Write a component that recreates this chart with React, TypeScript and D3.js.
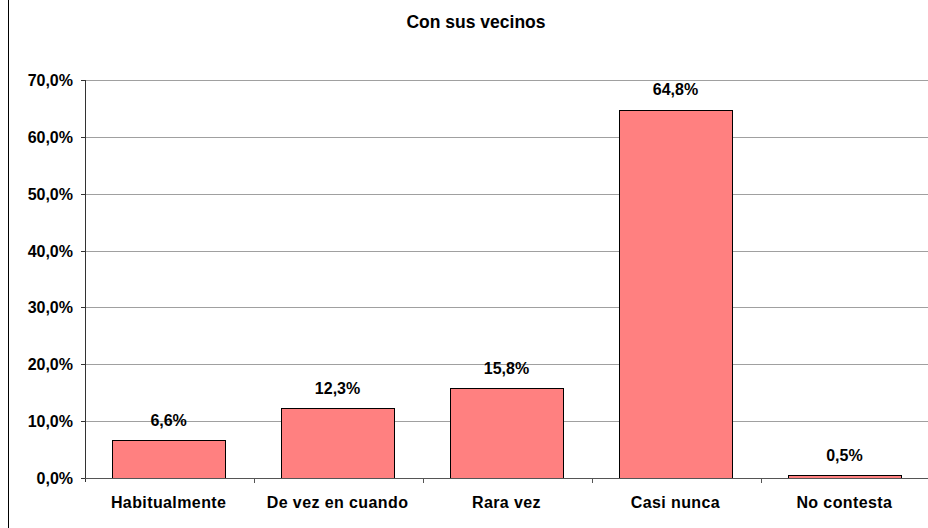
import React from "react";
import * as d3 from "d3";

const categories = ["Habitualmente", "De vez en cuando", "Rara vez", "Casi nunca", "No contesta"];
const values = [6.6, 12.3, 15.8, 64.8, 0.5];
const yTicks = [0, 10, 20, 30, 40, 50, 60, 70];
const title = "Con sus vecinos";

const W = 928;
const H = 528;
const margin = { top: 80, right: 0, bottom: 50, left: 85 };

const fmt = (v: number) => v.toFixed(1).replace(".", ",") + "%";

const App = () => {
  const x = d3
    .scaleBand<string>()
    .domain(categories)
    .range([margin.left, W - margin.right])
    .paddingInner(0.33)
    .paddingOuter(0.16);
  const y = d3.scaleLinear().domain([0, 70]).range([H - margin.bottom, margin.top]);
  const step = x.step();
  const font = "'Liberation Sans', Arial, sans-serif";

  return (
    <svg
      width={W}
      height={H}
      style={{ position: "absolute", left: 0, top: 0, background: "#fff" }}
      fontFamily={font}
      fontWeight="bold"
    >
      {/* outer chart border */}
      <rect x={8.5} y={-10} width={W + 20} height={H + 20} fill="none" stroke="#000" />
      <text x={476} y={28} textAnchor="middle" fontSize={17.5}>
        {title}
      </text>
      {/* gridlines */}
      {yTicks.slice(1).map((t) => (
        <line key={t} x1={margin.left} x2={W} y1={Math.round(y(t)) + 0.5} y2={Math.round(y(t)) + 0.5} stroke="#a0a0a0" />
      ))}
      {/* y axis */}
      <line x1={margin.left + 0.5} x2={margin.left + 0.5} y1={y(70)} y2={y(0) + 4} stroke="#333" />
      {yTicks.map((t) => (
        <g key={t}>
          <line x1={margin.left - 4} x2={margin.left} y1={Math.round(y(t)) + 0.5} y2={Math.round(y(t)) + 0.5} stroke="#333" />
          <text x={73} y={y(t) + 6} textAnchor="end" fontSize={16}>
            {fmt(t)}
          </text>
        </g>
      ))}
      {/* bars */}
      {categories.map((c, i) => (
        <g key={c}>
          <rect
            x={Math.round(x(c)!) + 0.5}
            y={Math.round(y(values[i])) + 0.5}
            width={Math.round(x.bandwidth())}
            height={Math.round(y(0)) - Math.round(y(values[i]))}
            fill="#FF8080"
            stroke="#000"
          />
          <text x={x(c)! + x.bandwidth() / 2} y={y(values[i]) - 14.5} textAnchor="middle" fontSize={16}>
            {fmt(values[i])}
          </text>
          <text x={x(c)! + x.bandwidth() / 2} y={508} textAnchor="middle" fontSize={16} letterSpacing={0.4}>
            {c}
          </text>
        </g>
      ))}
      {/* x axis */}
      <line x1={margin.left} x2={W} y1={Math.round(y(0)) + 0.5} y2={Math.round(y(0)) + 0.5} stroke="#555" />
      {d3.range(1, categories.length).map((k) => {
        const xx = Math.round(margin.left + k * step) + 0.5;
        return <line key={k} x1={xx} x2={xx} y1={y(0)} y2={y(0) + 5} stroke="#555" />;
      })}
    </svg>
  );
};

export default App;
